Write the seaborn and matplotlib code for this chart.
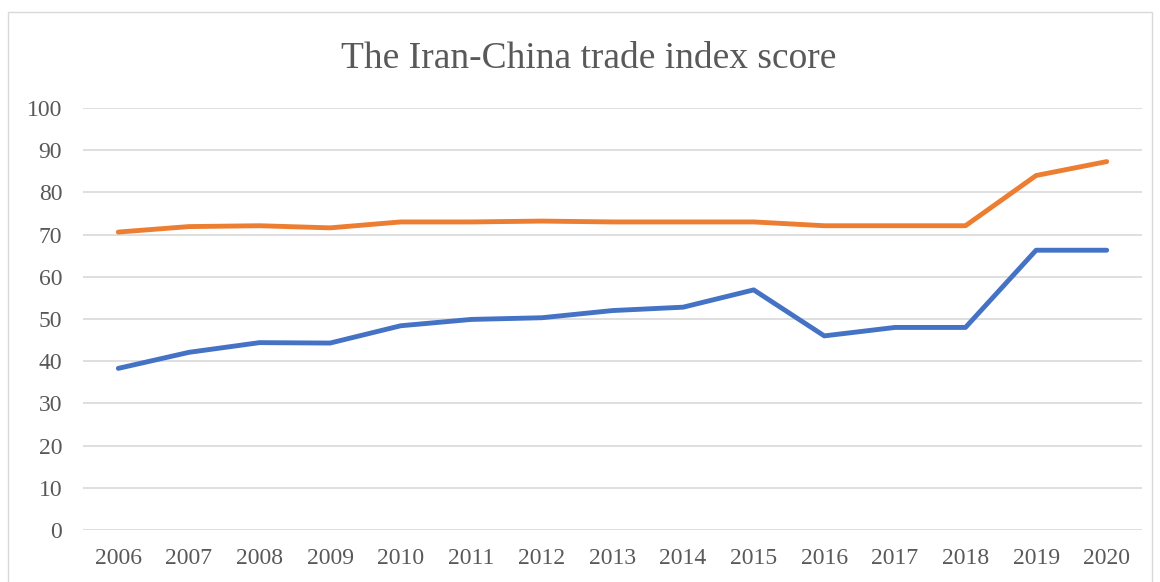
import matplotlib
matplotlib.use("Agg")
import matplotlib.pyplot as plt
import seaborn as sns
import pandas as pd
from matplotlib.patches import Rectangle

years = list(range(2006, 2021))
series_blue = [38.3, 42.1, 44.4, 44.3, 48.4, 49.9, 50.3, 52.0, 52.8, 56.9, 46.0, 48.0, 48.0, 66.3, 66.3]
series_orange = [70.6, 71.9, 72.1, 71.6, 73.0, 73.0, 73.2, 73.0, 73.0, 73.0, 72.1, 72.1, 72.1, 84.0, 87.3]
y_ticks = [0, 10, 20, 30, 40, 50, 60, 70, 80, 90, 100]
title = "The Iran-China trade index score"

df = pd.DataFrame({
    "year": years * 2,
    "score": series_blue + series_orange,
    "series": ["blue"] * len(years) + ["orange"] * len(years),
})

sns.set_theme(style="white")
plt.rcParams["font.family"] = ["Liberation Serif", "DejaVu Serif"]

fig = plt.figure(figsize=(11.6, 5.82), dpi=100)
ax = fig.add_axes([83 / 1160, 1 - 530 / 582, (1142 - 83) / 1160, (530 - 108) / 582])

sns.lineplot(data=df, x="year", y="score", hue="series",
             palette={"blue": "#4472C4", "orange": "#ED7D31"},
             linewidth=3.5, legend=False, ax=ax, solid_capstyle="round")

ax.set_xlim(2005.5, 2020.5)
ax.set_ylim(0, 100)
ax.set_yticks(y_ticks)
ax.set_xticks(years)
ax.set_xticklabels([str(y) for y in years])
ax.set_xlabel("")
ax.set_ylabel("")
ax.yaxis.grid(True, color="#D9D9D9", linewidth=1.2)
ax.xaxis.grid(False)
ax.set_axisbelow(True)
for s in ["top", "right", "left", "bottom"]:
    ax.spines[s].set_visible(False)
ax.tick_params(axis="both", length=0, labelsize=17, colors="#595959")
ax.tick_params(axis="y", pad=15)
ax.tick_params(axis="x", pad=13)

fig.text(589 / 1160, 1 - 59 / 582, title, ha="center", va="center",
         fontsize=27, color="#595959")

fig.patches.append(Rectangle((8 / 1160, -0.01), (1152 - 8) / 1160, 1 - 12 / 582 + 0.01,
                             transform=fig.transFigure, fill=False,
                             edgecolor="#D9D9D9", linewidth=1))

fig.savefig("out.png", dpi=100)
